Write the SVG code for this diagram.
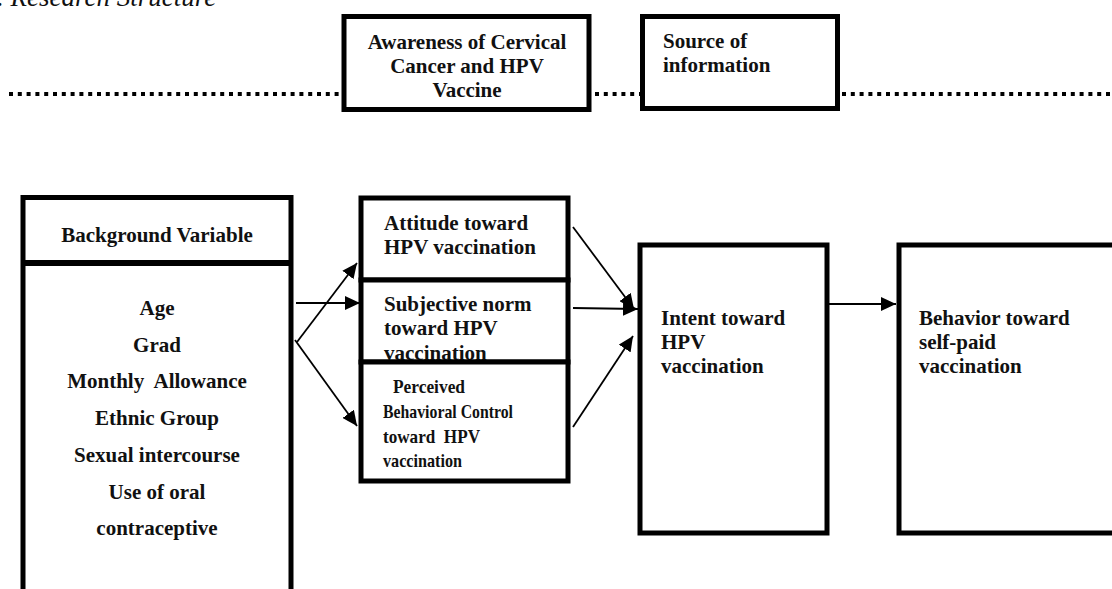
<svg xmlns="http://www.w3.org/2000/svg" width="1112" height="589" viewBox="0 0 1112 589">
<style>
.box{fill:#fff;stroke:#000;stroke-width:5}
.t{font-family:"Liberation Serif","Times New Roman",serif;font-weight:bold;font-size:21px;fill:#111}
.c{text-anchor:middle}
.dot{stroke:#000;stroke-width:4;stroke-dasharray:4 4.8;fill:none}
.arr{stroke:#000;stroke-width:1.8;fill:none;marker-end:url(#ah)}
.cond{font-family:"Liberation Serif","Times New Roman",serif;font-weight:bold;font-size:19px;fill:#111}
</style>
<defs>
<marker id="ah" markerUnits="userSpaceOnUse" markerWidth="16" markerHeight="14" refX="15" refY="7" orient="auto">
<path d="M0,0 L15,7 L0,14 Z" fill="#000"/>
</marker>
</defs>
<rect width="1112" height="589" fill="#fff"/>
<text x="-3" y="6" font-family="'Liberation Serif','Times New Roman',serif" font-style="italic" font-size="27" fill="#111">. Research Structure</text>

<g id="connectors">
<line class="dot" x1="9" y1="94" x2="342" y2="94"/>
<line class="dot" x1="595" y1="94" x2="640" y2="94"/>
<line class="dot" x1="842" y1="94" x2="1112" y2="94"/>
<line class="arr" x1="296" y1="303" x2="360" y2="303"/>
<line class="arr" x1="297" y1="342" x2="357" y2="263"/>
<line class="arr" x1="295" y1="340" x2="357" y2="426"/>
<line class="arr" x1="573" y1="227" x2="634" y2="309"/>
<line class="arr" x1="573" y1="308" x2="638" y2="309"/>
<line class="arr" x1="573" y1="427" x2="633" y2="336"/>
<line class="arr" x1="829" y1="304" x2="896" y2="304"/>
</g>

<g id="awareness">
<rect class="box" x="344" y="16.5" width="245" height="93"/>
<text class="t c" x="467" y="49">Awareness of Cervical</text>
<text class="t c" x="467" y="73">Cancer and HPV</text>
<text class="t c" x="467" y="97">Vaccine</text>
</g>

<g id="source">
<rect class="box" x="642.5" y="16.5" width="195" height="92"/>
<text class="t" x="663" y="48">Source of</text>
<text class="t" x="663" y="72">information</text>
</g>

<g id="background">
<rect class="box" x="23" y="197.5" width="268" height="420"/>
<line x1="23" y1="263" x2="291" y2="263" stroke="#000" stroke-width="6"/>
<text class="t c" x="157" y="242">Background Variable</text>
<text class="t c" x="157" y="315">Age</text>
<text class="t c" x="157" y="352">Grad</text>
<text class="t c" x="157" y="388" xml:space="preserve">Monthly  Allowance</text>
<text class="t c" x="157" y="425">Ethnic Group</text>
<text class="t c" x="157" y="462">Sexual intercourse</text>
<text class="t c" x="157" y="499">Use of oral</text>
<text class="t c" x="157" y="535">contraceptive</text>
</g>

<g id="attitude">
<rect class="box" x="361" y="198" width="207" height="82"/>
<text class="t" x="384" y="230">Attitude toward</text>
<text class="t" x="384" y="254">HPV vaccination</text>
</g>

<g id="subjective">
<rect class="box" x="361" y="280" width="207" height="82"/>
<text class="t" x="384" y="311">Subjective norm</text>
<text class="t" x="384" y="335">toward HPV</text>
<text class="t" x="384" y="360">vaccination</text>
</g>

<g id="perceived">
<rect class="box" x="361" y="362" width="207" height="119"/>
<text class="cond" x="393" y="393" textLength="72" lengthAdjust="spacingAndGlyphs">Perceived</text>
<text class="cond" x="383" y="418" textLength="130" lengthAdjust="spacingAndGlyphs">Behavioral Control</text>
<text class="cond" x="383" y="443" textLength="97" lengthAdjust="spacingAndGlyphs" xml:space="preserve">toward  HPV</text>
<text class="cond" x="383" y="467" textLength="79" lengthAdjust="spacingAndGlyphs">vaccination</text>
</g>

<g id="intent">
<rect class="box" x="640" y="245" width="187" height="288"/>
<text class="t" x="661" y="325">Intent toward</text>
<text class="t" x="661" y="349">HPV</text>
<text class="t" x="661" y="373">vaccination</text>
</g>

<g id="behavior">
<rect class="box" x="899" y="245" width="230" height="288"/>
<text class="t" x="919" y="325">Behavior toward</text>
<text class="t" x="919" y="349">self-paid</text>
<text class="t" x="919" y="373">vaccination</text>
</g>
</svg>
